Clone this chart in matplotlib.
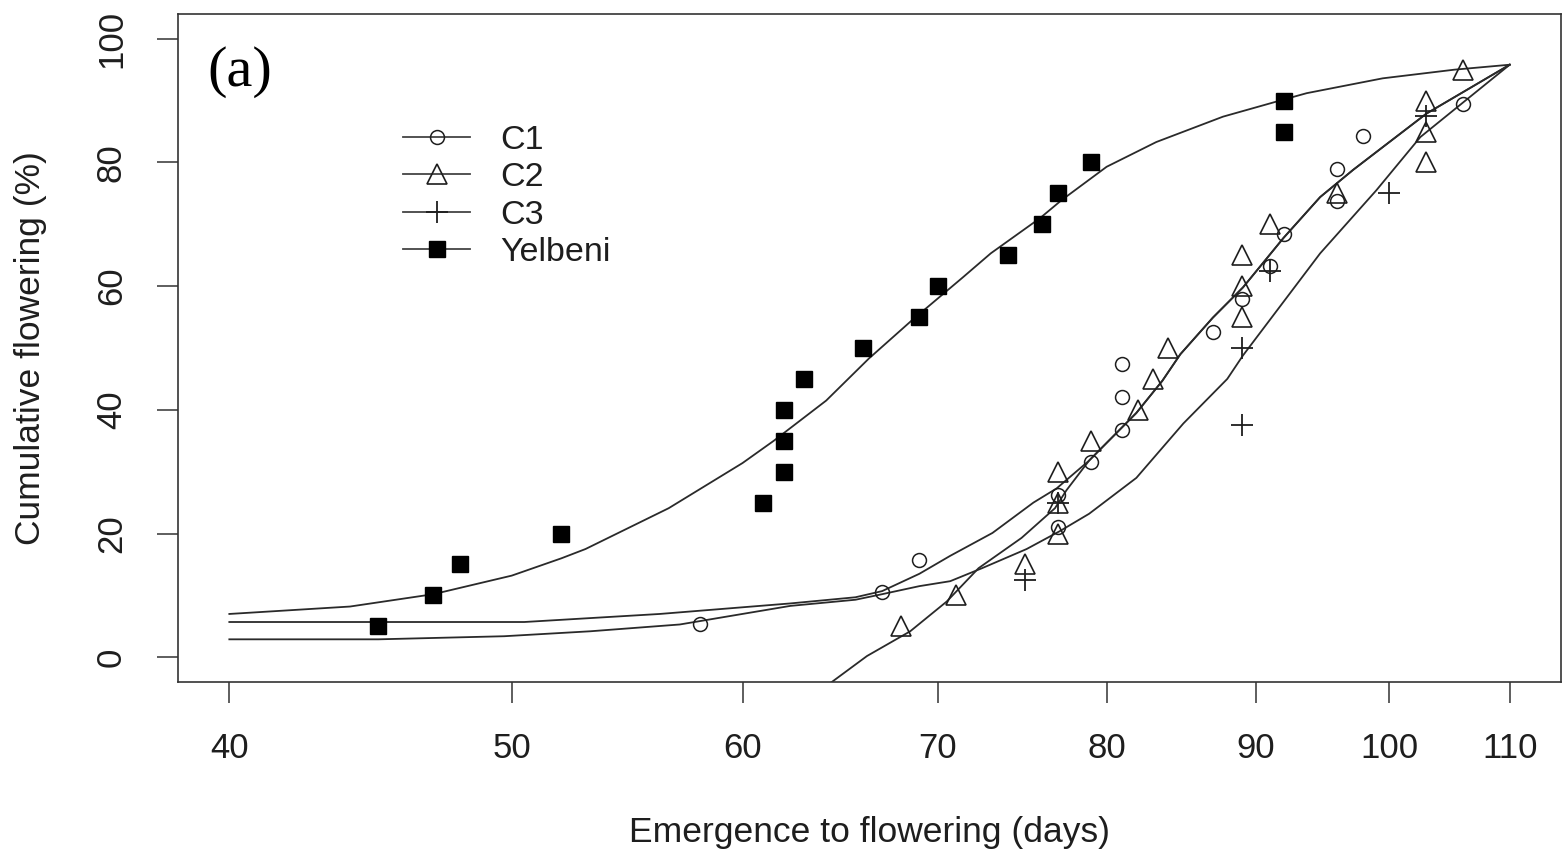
import matplotlib
matplotlib.use("Agg")
import matplotlib.pyplot as plt
from matplotlib.lines import Line2D
from matplotlib.ticker import FixedLocator, FixedFormatter, NullLocator

# observed points (days to flowering, cumulative %)
c1_x = [58, 67, 69, 77, 77, 79, 81, 81, 81, 87, 89, 91, 92, 96, 96, 98, 106]
c1_y = [5.3, 10.5, 15.8, 21.1, 26.3, 31.6, 36.8, 42.1, 47.4, 52.6, 57.9,
        63.2, 68.4, 73.7, 78.9, 84.2, 89.5]

c2_x = [68, 71, 75, 77, 77, 77, 79, 82, 83, 84, 89, 89, 89, 91, 96, 103, 103, 103, 106]
c2_y = [5, 10, 15, 20, 25, 30, 35, 40, 45, 50, 55, 60, 65, 70, 75, 80, 85, 90, 95]

c3_x = [75, 77, 89, 89, 91, 100, 103]
c3_y = [12.5, 25, 37.5, 50, 62.5, 75, 87.5]

yel_x = [45, 47, 48, 52, 61, 62, 62, 62, 63, 66, 69, 70, 74, 76, 77, 79, 92, 92]
yel_y = [5, 10, 15, 20, 25, 30, 35, 40, 45, 50, 55, 60, 65, 70, 75, 80, 85, 90]

# fitted curves
c1_fit_x = [40, 50.5, 56.2, 62.3, 65.6, 67, 69, 70.7, 73.1, 75.5, 76.9, 78.9, 81.9,
            83.6, 84.8, 87, 89.1, 92, 94.7, 97.2, 99.2, 103, 110]
c1_fit_y = [5.7, 5.7, 7.0, 8.7, 9.7, 10.7, 13.5, 16.4, 20.1, 25.0, 27.3, 31.8, 39.5,
            44.7, 49.0, 54.9, 59.8, 67.8, 74.4, 78.8, 82.0, 87.9, 95.8]

c2_fit_x = [64.3, 66.2, 68.5, 70.5, 72.3, 74.8, 76.8, 77.5, 78.9, 81.9, 83.6, 84.8,
            87, 89.1, 92, 94.7, 97.2, 99.2, 103, 110]
c2_fit_y = [-4.2, 0.2, 4.2, 9.0, 14.4, 19.3, 24.1, 27.0, 31.8, 39.5, 44.7, 49.0,
            54.9, 59.8, 67.8, 74.4, 78.8, 82.0, 87.9, 95.8]

c3_fit_x = [40, 45, 49.7, 53.2, 57.1, 62.3, 65.6, 67, 69, 70.7, 72.5, 75.1, 77.1,
            78.9, 81.9, 85, 88, 89.1, 94.7, 99, 102.5, 110]
c3_fit_y = [2.9, 2.9, 3.4, 4.2, 5.3, 8.3, 9.3, 10.2, 11.5, 12.3, 14.4, 17.5, 20.4,
            23.2, 29.0, 37.8, 45.0, 48.8, 65.3, 75.5, 84.1, 95.8]

yel_fit_x = [40, 44, 47, 50, 52, 53, 56.6, 60, 61.5, 64.1, 66.3, 68.6, 71.4, 73,
             75.9, 77.2, 80, 83.2, 87.7, 91.9, 93.7, 99.5, 105.3, 110]
yel_fit_y = [7.0, 8.2, 10.2, 13.2, 16.0, 17.5, 24.1, 31.4, 35.0, 41.5, 48.3, 54.5,
             61.4, 65.3, 71.0, 73.9, 79.3, 83.3, 87.4, 90.1, 91.2, 93.6, 95.0, 95.8]

x_ticks = [40, 50, 60, 70, 80, 90, 100, 110]
y_ticks = [0, 20, 40, 60, 80, 100]

ink = "#1e1e1e"
plt.rcParams["font.family"] = ["Liberation Sans", "DejaVu Sans"]

fig = plt.figure(figsize=(15.65, 8.52), dpi=100)
ax = fig.add_axes([178 / 1565, 1 - 682 / 852, 1383 / 1565, 668 / 852])

line_kw = dict(color="#2a2a2a", lw=1.3)
ax.plot(yel_fit_x, yel_fit_y, **line_kw)
ax.plot(c1_fit_x, c1_fit_y, **line_kw)
ax.plot(c2_fit_x, c2_fit_y, **line_kw)
ax.plot(c3_fit_x, c3_fit_y, **line_kw)

ax.plot(c1_x, c1_y, ls="none", marker="o", ms=10, mfc="none", mec=ink, mew=1.1)
ax.plot(c2_x, c2_y, ls="none", marker="^", ms=14, mfc="none", mec=ink, mew=1.2)
ax.plot(c3_x, c3_y, ls="none", marker="+", ms=16, mec=ink, mew=1.3)
ax.plot(yel_x, yel_y, ls="none", marker="s", ms=11, mfc="black", mec="black")

ax.set_xscale("log")
ax.set_xlim(38.41, 114.55)
ax.set_ylim(-4, 104)
ax.xaxis.set_major_locator(FixedLocator(x_ticks))
ax.xaxis.set_major_formatter(FixedFormatter([str(t) for t in x_ticks]))
ax.xaxis.set_minor_locator(NullLocator())
ax.set_yticks(y_ticks)

ax.tick_params(axis="both", length=15, width=1.1, color="#333333",
               labelsize=25, labelcolor=ink, pad=21)
ax.tick_params(axis="y", labelrotation=90)
for lab in ax.get_yticklabels():
    lab.set_va("center")

for sp in ax.spines.values():
    sp.set_color("#333333")
    sp.set_linewidth(1.2)

ax.set_xlabel("Emergence to flowering (days)", fontsize=25.5, color=ink, va="center")
ax.xaxis.set_label_coords(0.5, -0.2246)
ax.set_ylabel("Cumulative flowering (%)", fontsize=25.5, color=ink, va="center")
ax.yaxis.set_label_coords(-0.1063, 0.5)

ax.text(0.021, 0.913, "(a)", transform=ax.transAxes, ha="left", va="center",
        fontsize=42, family="Liberation Serif", color="black")

handles = [
    Line2D([], [], color="#444444", lw=1.3, marker="o", ms=10, mfc="none", mec=ink, mew=1.1),
    Line2D([], [], color="#444444", lw=1.3, marker="^", ms=14, mfc="none", mec=ink, mew=1.2),
    Line2D([], [], color="#444444", lw=1.3, marker="+", ms=16, mec=ink, mew=1.3),
    Line2D([], [], color="#444444", lw=1.3, marker="s", ms=11, mfc="black", mec="black"),
]
leg = ax.legend(handles, ["C1", "C2", "C3", "Yelbeni"], loc="upper left",
                bbox_to_anchor=(0.1627, 0.834), frameon=False, fontsize=24.5,
                handlelength=1.97, handletextpad=0.88, labelspacing=0.19,
                borderpad=0, borderaxespad=0)
for t in leg.get_texts():
    t.set_color(ink)

fig.savefig("out.png", dpi=100)
